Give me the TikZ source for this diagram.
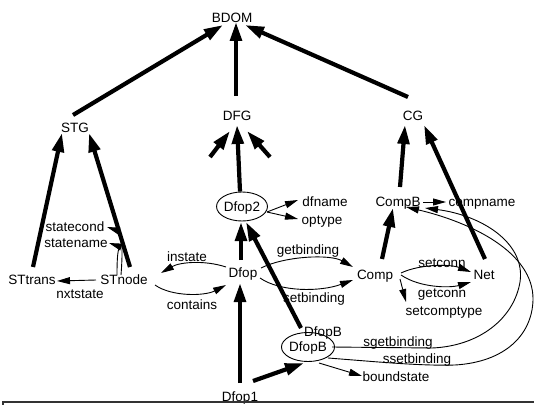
\documentclass[tikz,border=0pt]{standalone}
\usepackage{fontspec}
\setmainfont{Liberation Sans}
\usetikzlibrary{arrows.meta,shapes.geometric,calc}
\begin{document}
\begin{tikzpicture}[x=1pt,y=-1pt,
  lbl/.style={inner sep=0pt, text height=9.7pt, text depth=0pt,
              font=\fontsize{13.5}{16}\selectfont},
  oval/.style={lbl, draw, ellipse, line width=0.9pt,
               minimum width=49pt, minimum height=29pt},
  bigarr/.style={line width=4.2pt, -{Triangle[length=19pt,width=11.5pt]}},
  thinarr/.style={line width=0.9pt, -{Triangle[length=13pt,width=7pt]}},
]
\useasboundingbox (0,0) rectangle (534,404);

% class names and attributes
\node[lbl] (bdom)        at (232,18)  {BDOM};
\node[lbl] (dfg)         at (237,116) {DFG};
\node[lbl] (cg)          at (413,116) {CG};
\node[lbl] (stg)         at (75,128)  {STG};
\node[oval] (dfop2)      at (242,206.5) {Dfop2};
\node[lbl] (dfname)      at (325,202) {dfname};
\node[lbl] (optype)      at (322,220) {optype};
\node[lbl] (compb)       at (398,202) {CompB};
\node[lbl] (compname)    at (482,202) {compname};
\node[lbl] (statecond)   at (75,227)  {statecond};
\node[lbl] (statename)   at (76,243)  {statename};
\node[lbl] (instate)     at (187,257) {instate};
\node[lbl] (getbinding)  at (308,250) {getbinding};
\node[lbl] (setconn)     at (442,263) {setconn};
\node[lbl] (sttrans)     at (32,280)  {STtrans};
\node[lbl] (stnode)      at (124,280) {STnode};
\node[lbl] (dfop)        at (243,273) {Dfop};
\node[lbl] (comp)        at (375,275) {Comp};
\node[lbl] (net)         at (484,275) {Net};
\node[lbl] (nxtstate)    at (80,294)  {nxtstate};
\node[lbl] (getconn)     at (442,293) {getconn};
\node[lbl] (contains)    at (192,305) {contains};
\node[lbl] (setbinding)  at (314,298) {setbinding};
\node[lbl] (setcomptype) at (444,311) {setcomptype};
\node[lbl] (dfopbtop)    at (323,332) {DfopB};
\node[oval] (dfopb)      at (308,347) {DfopB};
\node[lbl] (sgetbinding) at (398,342) {sgetbinding};
\node[lbl] (ssetbinding) at (417,359) {ssetbinding};
\node[lbl] (boundstate)  at (396,377) {boundstate};
\node[lbl] (dfop1)       at (240,397) {Dfop1};

\coordinate (stubL) at (210,157);
\coordinate (stubR) at (270,157);

% inheritance (thick arrows)
\draw[bigarr] ($(stg)+(-2,-13)$) -- ($(bdom)+(-9,7)$);
\draw[bigarr] ($(dfg)+(-1,-20)$) -- ($(bdom)+(4,4)$);
\draw[bigarr] ($(cg)+(-5,-19)$) -- ($(bdom)+(13,7)$);
\draw[bigarr] ($(dfop2.north)+(-2,0)$) -- ($(dfg)+(0,9)$);
\draw[bigarr] (stubL) -- ($(dfg)+(-7,15)$);
\draw[bigarr] (stubR) -- ($(dfg)+(10,15)$);
\draw[bigarr] ($(dfop)+(-2,-13)$) -- ($(dfop2)+(-1,15.5)$);
\draw[bigarr] ($(dfopb)+(-7,-19)$) -- ($(dfop2)+(4,15.5)$);
\draw[bigarr] ($(dfop1)+(0,-14)$) -- ($(dfop)+(-3,10)$);
\draw[bigarr] ($(dfop1)+(13,-16)$) -- ($(dfopb)+(-4,16)$);
\draw[bigarr] ($(sttrans)+(1,-13)$) -- ($(stg)+(-13,5)$);
\draw[bigarr] ($(stnode)+(6,-13)$) -- ($(stg)+(14,5)$);
\draw[bigarr] ($(comp)+(7,-16)$) -- ($(compb)+(-5,6)$);
\draw[bigarr] ($(compb)+(2,-15)$) -- ($(cg)+(-8,9)$);
\draw[bigarr] ($(net)+(1,-16)$) -- ($(cg)+(11,9)$);

% attribute and relation links (thin arrows)
\draw[thinarr] ($(dfop2)+(25,5.5)$) -- ($(dfname)+(-27,-2)$);
\draw[thinarr] ($(dfop2)+(25,5.5)$) -- ($(optype)+(-24,-1)$);
\draw[thinarr] ($(compb)+(25,0)$) -- ($(compname)+(-36,0)$);
\draw[thinarr] ($(stnode)+(-7,-5)$) .. controls (117,255) and (118,246) .. ($(statename)+(33,0)$);
\draw[thinarr] ($(stnode)+(-3,-5)$) .. controls (123,250) and (122,232) .. ($(statecond)+(32,0)$);
\draw[thinarr] ($(stnode)+(-28,0)$) -- ($(sttrans)+(25,1)$);
\draw[thinarr] ($(dfop)+(-17,-6)$) .. controls (205,260) and (180,262) .. ($(stnode)+(37,-7)$);
\draw[thinarr] ($(stnode)+(31,5)$) .. controls (172,297) and (205,296) .. ($(dfop)+(-17,12)$);
\draw[thinarr] ($(dfop)+(18,-5)$) .. controls (285,256) and (330,254) .. ($(comp)+(-22,-8)$);
\draw[thinarr] ($(dfop)+(17,5)$) .. controls (280,292) and (320,292) .. ($(comp)+(-22,5)$);
\draw[thinarr] ($(comp)+(26,-2)$) .. controls (420,264) and (450,264) .. ($(net)+(-13,-3)$);
\draw[thinarr] ($(comp)+(26,0)$) .. controls (420,288) and (450,288) .. ($(net)+(-13,7)$);
\draw[thinarr] ($(comp)+(25,4)$) -- ($(setcomptype)+(-38,-9)$);
\draw[thinarr] ($(dfopb)+(11,16)$) -- ($(boundstate)+(-34,-1)$);
\draw[thinarr] ($(dfopb)+(24,0)$) -- (432,348)
  .. controls (480,346) and (514,318) .. (520,282)
  .. controls (526,242) and (480,215) .. ($(compb)+(27,6)$);
\draw[thinarr] ($(dfopb)+(20,11)$) .. controls (380,362) and (420,366) .. (455,365)
  .. controls (505,362) and (532,335) .. (533,300)
  .. controls (534,252) and (470,222) .. ($(compb)+(8,5)$);

% frame edge along the bottom
\draw[line width=2pt, black!80] (3,406) |- (536,401.5);
\end{tikzpicture}
\end{document}
